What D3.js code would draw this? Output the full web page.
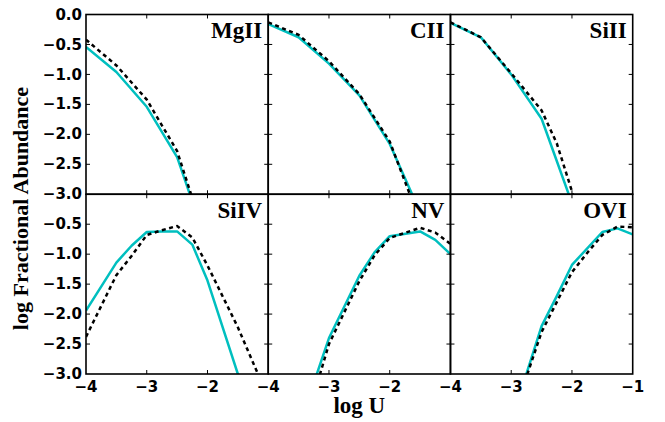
<!DOCTYPE html>
<html><head><meta charset="utf-8">
<script src="https://cdn.jsdelivr.net/npm/d3@7"></script>
<style>html,body{margin:0;padding:0;background:#fff}</style>
</head><body><svg id="c" width="665" height="422"></svg>
<script>
// ---------- data ----------
const ions = ["MgII", "CII", "SiII", "SiIV", "NV", "OVI"];
const xTicks = [-4, -3, -2, -1];
const yTicks = [0, -0.5, -1, -1.5, -2, -2.5, -3];
const xLabel = "log U";
const yLabel = "log Fractional Abundance";

// [logU, log fraction]
const MgII_solid  = [[-4,-0.54],[-3.5,-0.96],[-3,-1.54],[-2.5,-2.38],[-2,-3.86]];
const MgII_dashed = [[-4,-0.42],[-3.5,-0.85],[-3,-1.42],[-2.5,-2.28],[-2,-3.85]];
const CII_solid   = [[-4,-0.16],[-3.5,-0.38],[-3,-0.82],[-2.5,-1.35],[-2,-2.16],[-1.5,-3.3]];
const CII_dashed  = [[-4,-0.13],[-3.5,-0.34],[-3,-0.78],[-2.5,-1.33],[-2,-2.12],[-1.5,-3.45]];
const SiII_solid  = [[-4,-0.14],[-3.5,-0.38],[-3,-1.0],[-2.5,-1.74],[-2.34,-2.19],[-2,-3.15]];
const SiII_dashed = [[-4,-0.13],[-3.5,-0.38],[-3,-0.98],[-2.5,-1.6],[-2.25,-2.15],[-2,-2.95],[-1.75,-4.0]];
const SiIV_solid  = [[-4,-1.94],[-3.5,-1.14],[-3.25,-0.86],[-3,-0.63],[-2.75,-0.62],[-2.5,-0.62],[-2.25,-0.84],[-2,-1.44],[-1.5,-3.0],[-1,-4.5]];
const SiIV_dashed = [[-4,-2.38],[-3.5,-1.35],[-3.25,-1.03],[-3,-0.68],[-2.75,-0.6],[-2.5,-0.53],[-2.25,-0.72],[-2,-1.19],[-1.5,-2.22],[-1,-3.4]];
const NV_solid    = [[-3.5,-4.4],[-3.25,-3.15],[-3,-2.4],[-2.5,-1.36],[-2.25,-0.97],[-2,-0.7],[-1.5,-0.62],[-1.25,-0.76],[-1,-1.0]];
const NV_dashed   = [[-3.5,-4.6],[-3.25,-3.35],[-3,-2.5],[-2.5,-1.45],[-2.25,-1.02],[-2,-0.73],[-1.5,-0.56],[-1.25,-0.64],[-1,-0.83]];
const OVI_solid   = [[-3,-4.0],[-2.75,-3.0],[-2.5,-2.2],[-2.25,-1.7],[-2,-1.18],[-1.5,-0.63],[-1.25,-0.57],[-1,-0.67]];
const OVI_dashed  = [[-3,-4.1],[-2.75,-3.05],[-2.5,-2.3],[-2.25,-1.8],[-2,-1.3],[-1.75,-0.98],[-1.5,-0.68],[-1.25,-0.54],[-1,-0.55]];

const solidSeries  = [MgII_solid, CII_solid, SiII_solid, SiIV_solid, NV_solid, OVI_solid];
const dashedSeries = [MgII_dashed, CII_dashed, SiII_dashed, SiIV_dashed, NV_dashed, OVI_dashed];

// ---------- layout ----------
const L = 86, R = 632.7, T = 14.5, B = 374;
const pw = (R - L) / 3, ph = (B - T) / 2;
const svg = d3.select("#c");
const tickFont = "'DejaVu Sans', sans-serif";
const serif = "'Liberation Serif', 'Times New Roman', serif";
const cyan = "#00BFBF";

ions.forEach((ion, i) => {
  const row = Math.floor(i / 3), col = i % 3;
  const x0 = L + col * pw, y0 = T + row * ph;
  const x = d3.scaleLinear().domain([-4, -1]).range([x0, x0 + pw]);
  const y = d3.scaleLinear().domain([0, -3]).range([y0, y0 + ph]);
  const g = svg.append("g");
  const cid = "clip" + i;
  svg.append("clipPath").attr("id", cid).append("rect")
    .attr("x", x0).attr("y", y0).attr("width", pw).attr("height", ph);

  const line = d3.line().x(d => x(d[0])).y(d => y(d[1]));
  const plot = g.append("g").attr("clip-path", `url(#${cid})`);
  plot.append("path").datum(solidSeries[i]).attr("d", line)
    .attr("fill", "none").attr("stroke", cyan).attr("stroke-width", 2.5)
    .attr("stroke-linejoin", "round");
  plot.append("path").datum(dashedSeries[i]).attr("d", line)
    .attr("fill", "none").attr("stroke", "#000").attr("stroke-width", 2.5)
    .attr("stroke-dasharray", "4,3.5");

  // inward ticks on all four sides
  const tk = 4;
  const xt = xTicks.filter(v => v > -4 && v < -1);
  const yt = yTicks.filter(v => v < 0 && v > -3);
  xt.forEach(v => {
    g.append("line").attr("x1", x(v)).attr("x2", x(v)).attr("y1", y0 + ph).attr("y2", y0 + ph - tk)
      .attr("stroke", "#000").attr("stroke-width", 1);
    g.append("line").attr("x1", x(v)).attr("x2", x(v)).attr("y1", y0).attr("y2", y0 + tk)
      .attr("stroke", "#000").attr("stroke-width", 1);
  });
  yt.forEach(v => {
    g.append("line").attr("x1", x0).attr("x2", x0 + tk).attr("y1", y(v)).attr("y2", y(v))
      .attr("stroke", "#000").attr("stroke-width", 1);
    g.append("line").attr("x1", x0 + pw).attr("x2", x0 + pw - tk).attr("y1", y(v)).attr("y2", y(v))
      .attr("stroke", "#000").attr("stroke-width", 1);
  });

  g.append("rect").attr("x", x0).attr("y", y0).attr("width", pw).attr("height", ph)
    .attr("fill", "none").attr("stroke", "#000").attr("stroke-width", 1.6);

  // y tick labels on first column
  if (col === 0) {
    yTicks.filter(v => row === 0 || v < 0).forEach(v => {
      g.append("text").attr("x", x0 - 4).attr("y", y(v)).attr("dy", "0.34em")
        .attr("text-anchor", "end").attr("font-family", tickFont).attr("font-weight", "bold")
        .attr("font-size", 15).text(d3.format(".1f")(v).replace("-", "\u2212"));
    });
  }
  // x tick labels on bottom row
  if (row === 1) {
    xTicks.filter(v => col === 2 || v < -1).forEach(v => {
      g.append("text").attr("x", x(v)).attr("y", y0 + ph + 17.5)
        .attr("text-anchor", "middle").attr("font-family", tickFont).attr("font-weight", "bold")
        .attr("font-size", 15).text(String(v).replace("-", "\u2212"));
    });
  }
  // ion label
  g.append("text").attr("x", x0 + pw - 6).attr("y", y0 + 23.5).attr("text-anchor", "end")
    .attr("font-family", serif).attr("font-weight", "bold").attr("font-size", 23).text(ion);
});

svg.append("text").attr("x", (L + R) / 2).attr("y", 413).attr("text-anchor", "middle")
  .attr("font-family", serif).attr("font-weight", "bold").attr("font-size", 23).text(xLabel);
svg.append("text").attr("transform", "translate(28,208.5) rotate(-90)")
  .attr("text-anchor", "middle")
  .attr("font-family", serif).attr("font-weight", "bold").attr("font-size", 22).text(yLabel);
</script></body></html>
